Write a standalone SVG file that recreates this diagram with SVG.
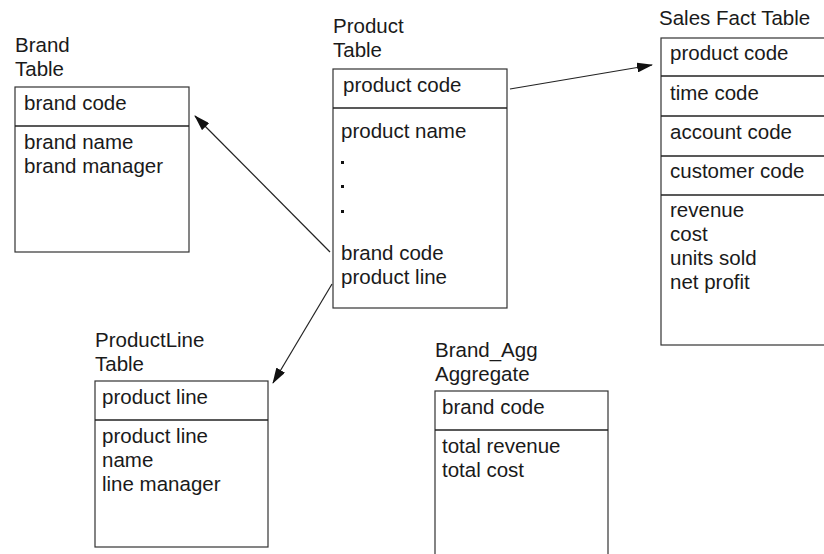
<svg xmlns="http://www.w3.org/2000/svg" width="824" height="554" viewBox="0 0 824 554">
<defs>
<style>
text{font-family:"Liberation Sans",Arial,sans-serif;font-size:20.5px;fill:#1a1a1a}
.box{fill:#fff;stroke:#333;stroke-width:1.2}
.div{stroke:#222;stroke-width:1.6}
.conn{stroke:#222;stroke-width:1.2;fill:none;marker-end:url(#ah)}
</style>
<marker id="ah" viewBox="0 0 16 10" refX="15" refY="5" markerWidth="16" markerHeight="10" markerUnits="userSpaceOnUse" orient="auto">
<path d="M0,0 L16,5 L0,10 Z" fill="#111"/>
</marker>
</defs>
<rect width="824" height="554" fill="#fff"/>
<g id="brand">
<text x="15" y="52">Brand</text>
<text x="15" y="76">Table</text>
<rect class="box" x="15" y="87" width="174" height="165"/>
<line class="div" x1="15" y1="126" x2="189" y2="126"/>
<text x="24" y="110">brand code</text>
<text x="24" y="149">brand name</text>
<text x="24" y="173">brand manager</text>
</g>
<g id="product">
<text x="333" y="33">Product</text>
<text x="333" y="57">Table</text>
<rect class="box" x="333" y="69" width="174" height="239"/>
<line class="div" x1="333" y1="108" x2="507" y2="108"/>
<text x="343" y="92">product code</text>
<text x="341" y="138">product name</text>
<rect x="341" y="161" width="3" height="3" fill="#111"/>
<rect x="341" y="185" width="3" height="3" fill="#111"/>
<rect x="341" y="210" width="3" height="3" fill="#111"/>
<text x="341" y="260">brand code</text>
<text x="341" y="284">product line</text>
</g>
<g id="sales">
<text x="659" y="25">Sales Fact Table</text>
<rect class="box" x="661" y="38" width="180" height="307"/>
<line class="div" x1="661" y1="76" x2="824" y2="76"/>
<line class="div" x1="661" y1="116" x2="824" y2="116"/>
<line class="div" x1="661" y1="156" x2="824" y2="156"/>
<line class="div" x1="661" y1="195" x2="824" y2="195"/>
<text x="670" y="60">product code</text>
<text x="670" y="100">time code</text>
<text x="670" y="139">account code</text>
<text x="670" y="178">customer code</text>
<text x="670" y="217">revenue</text>
<text x="670" y="241">cost</text>
<text x="670" y="265">units sold</text>
<text x="670" y="289">net profit</text>
</g>
<g id="productline">
<text x="95" y="347">ProductLine</text>
<text x="95" y="371">Table</text>
<rect class="box" x="95" y="381" width="173" height="166"/>
<line class="div" x1="95" y1="420" x2="268" y2="420"/>
<text x="102" y="404">product line</text>
<text x="102" y="443">product line</text>
<text x="102" y="467">name</text>
<text x="102" y="491">line manager</text>
</g>
<g id="brandagg">
<text x="435" y="357">Brand_Agg</text>
<text x="435" y="381">Aggregate</text>
<rect class="box" x="435" y="391" width="173" height="175"/>
<line class="div" x1="435" y1="430" x2="608" y2="430"/>
<text x="442" y="414">brand code</text>
<text x="442" y="453">total revenue</text>
<text x="442" y="477">total cost</text>
</g>
<g id="connectors">
<line class="conn" x1="510" y1="89" x2="652" y2="65"/>
<line class="conn" x1="330" y1="252" x2="195" y2="116"/>
<line class="conn" x1="332" y1="284" x2="273" y2="383"/>
</g>
</svg>
